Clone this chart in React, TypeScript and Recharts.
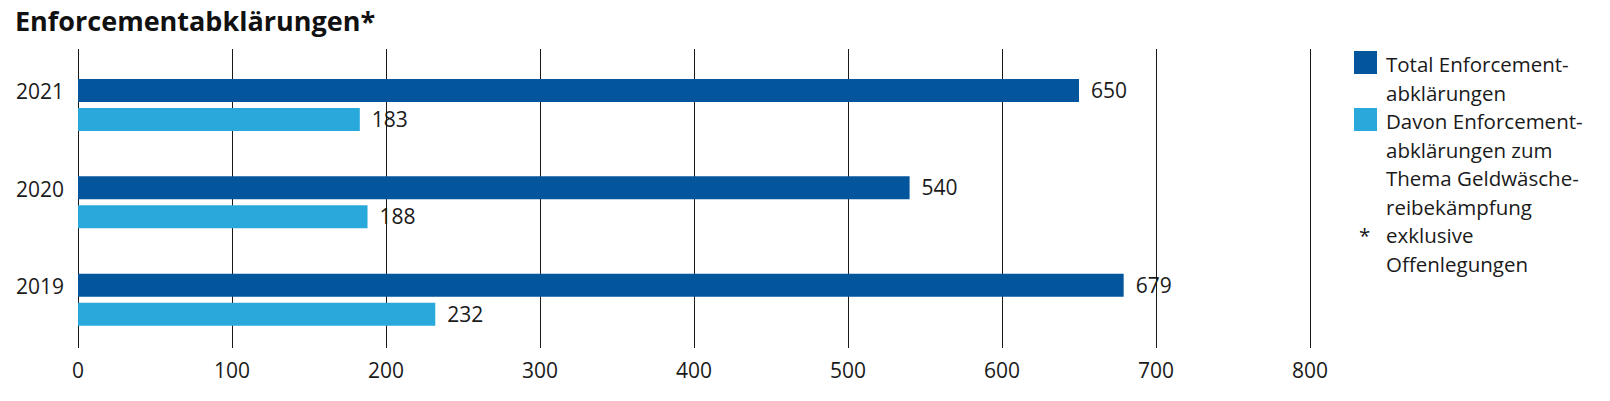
import { BarChart, Bar, XAxis, YAxis, CartesianGrid, LabelList } from 'recharts';

const years = ['2021', '2020', '2019'];
const totalValues = [650, 540, 679];
const geldwaescheValues = [183, 188, 232];
const xTicks = [0, 100, 200, 300, 400, 500, 600, 700, 800];

const legendLines = [
  ['Total Enforcement-', 'abklärungen'],
  ['Davon Enforcement-', 'abklärungen zum', 'Thema Geldwäsche-', 'reibekämpfung'],
];
const footnoteLines = ['exklusive', 'Offenlegungen'];

const title = 'Enforcementabklärungen*';

const DARK = '#03559c';
const LIGHT = '#29a8db';
const TEXT = '#1a1a1a';
const FONT = '"Open Sans", sans-serif';
const seriesColors = [DARK, LIGHT];

const data = years.map((year, i) => ({
  year,
  total: totalValues[i],
  geldwaesche: geldwaescheValues[i],
}));

function YearTick({ x, y, payload }: any) {
  return (
    <text x={x - 6} y={y - 13} dy="0.36em" textAnchor="end" fill={TEXT} fontSize={21} fontFamily={FONT}>
      {payload.value}
    </text>
  );
}

function LegendBox() {
  const lineH = 28.5;
  return (
    <div
      style={{
        position: 'absolute',
        left: 1354,
        top: 50,
        width: 250,
        fontFamily: FONT,
        fontSize: 20.5,
        color: TEXT,
        lineHeight: `${lineH}px`,
      }}
    >
      {legendLines.map((lines, i) => (
        <div key={i} style={{ display: 'flex' }}>
          <div style={{ width: 23, height: 23, background: seriesColors[i], marginTop: 1, flexShrink: 0 }} />
          <div style={{ marginLeft: 9 }}>
            {lines.map((l, j) => (
              <div key={j}>{l}</div>
            ))}
          </div>
        </div>
      ))}
      <div style={{ display: 'flex' }}>
        <div style={{ width: 23, flexShrink: 0, paddingLeft: 5, boxSizing: 'border-box' }}>*</div>
        <div style={{ marginLeft: 9 }}>
          {footnoteLines.map((l, j) => (
            <div key={j}>{l}</div>
          ))}
        </div>
      </div>
    </div>
  );
}

export default function App() {
  return (
    <div style={{ position: 'relative', width: 1610, height: 401, margin: -8, background: '#fff' }}>
      <div
        style={{
          position: 'absolute',
          left: 15,
          top: 6,
          fontFamily: FONT,
          fontWeight: 700,
          fontSize: 27,
          lineHeight: '30px',
          color: '#111',
        }}
      >
        {title}
      </div>
      <BarChart
        width={1610}
        height={401}
        data={data}
        layout="vertical"
        margin={{ top: 49, right: 300, bottom: 23, left: 8 }}
        barSize={23}
        barGap={6}
      >
        <CartesianGrid horizontal={false} stroke="#1a1a1a" strokeWidth={1} shapeRendering="crispEdges" />
        <XAxis
          type="number"
          domain={[0, 800]}
          ticks={xTicks}
          axisLine={false}
          tickLine={false}
          tickMargin={9}
          height={30}
          interval={0}
          tick={{ fill: TEXT, fontSize: 21, fontFamily: FONT }}
        />
        <YAxis
          type="category"
          dataKey="year"
          width={70}
          axisLine={false}
          tickLine={false}
          padding={{ top: 7, bottom: 0 }}
          tick={<YearTick />}
        />
        <Bar dataKey="total" fill={DARK} isAnimationActive={false}>
          <LabelList dataKey="total" position="right" offset={12} fill={TEXT} fontSize={21} fontFamily={FONT} />
        </Bar>
        <Bar dataKey="geldwaesche" fill={LIGHT} isAnimationActive={false}>
          <LabelList dataKey="geldwaesche" position="right" offset={12} fill={TEXT} fontSize={21} fontFamily={FONT} />
        </Bar>
      </BarChart>
      <LegendBox />
    </div>
  );
}
